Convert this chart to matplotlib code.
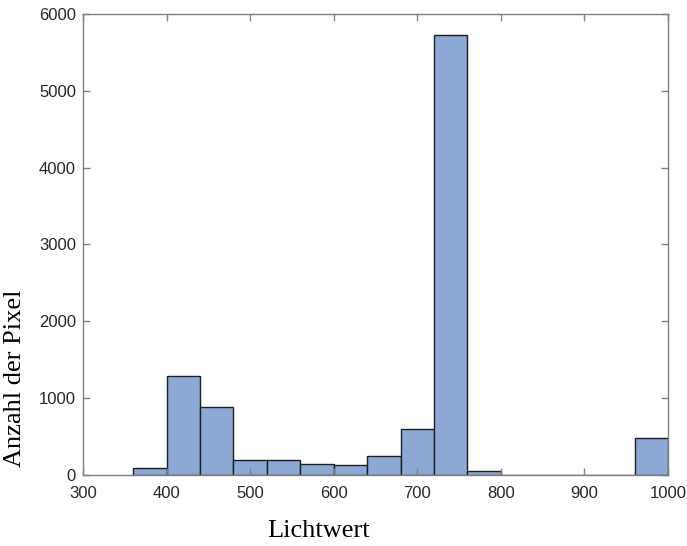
import numpy as np
import matplotlib.pyplot as plt

# Histogramm der Lichtwerte
bin_edges = [360, 400, 440, 480, 520, 560, 600, 640, 680, 720, 760, 800,
             840, 880, 920, 960, 1000]
counts = [85, 1290, 882, 195, 195, 140, 128, 247, 605, 5722, 48,
          0, 0, 0, 0, 477]
x_ticks = [300, 400, 500, 600, 700, 800, 900, 1000]
y_ticks = [0, 1000, 2000, 3000, 4000, 5000, 6000]

fig = plt.figure(figsize=(6.87, 5.46), dpi=100)
ax = fig.add_axes([0.1208, 0.130, 0.8516, 0.8444])

widths = np.diff(bin_edges)
ax.bar(bin_edges[:-1], counts, width=widths, align="edge",
       color="#8CA9D6", edgecolor="#1e1e1e", linewidth=1.0)

ax.set_xlim(300, 1000)
ax.set_ylim(0, 6000)
ax.set_xticks(x_ticks)
ax.set_yticks(y_ticks)

grey = "#808080"
for s in ax.spines.values():
    s.set_color(grey)
    s.set_linewidth(1.0)
ax.tick_params(direction="in", length=5, width=1, color=grey,
               top=True, right=True, labelcolor="#262626",
               labelsize=12, pad=5)
ax.tick_params(axis="x", pad=8)
for lab in ax.get_xticklabels() + ax.get_yticklabels():
    lab.set_family(["Liberation Sans", "DejaVu Sans"])

ax.set_xlabel("Lichtwert", family="Liberation Serif", fontsize=19)
ax.set_ylabel("Anzahl der Pixel", family="Liberation Serif", fontsize=19)
ax.xaxis.set_label_coords(0.403, -0.097)
ax.yaxis.set_label_coords(-0.098, 0.21)

fig.savefig("out.png", dpi=100)
